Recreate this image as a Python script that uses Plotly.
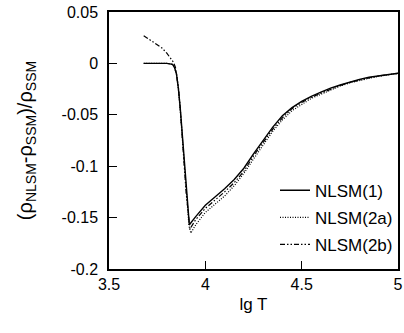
import plotly.graph_objects as go

# NLSM(1)
x1 = [3.68, 3.75, 3.80, 3.83, 3.84, 3.85, 3.86, 3.87, 3.88, 3.89, 3.90, 3.917,
      3.95, 4.0, 4.05, 4.1, 4.15, 4.2, 4.25, 4.3, 4.35, 4.4, 4.45, 4.5, 4.55,
      4.6, 4.65, 4.7, 4.75, 4.8, 4.85, 4.9, 4.95, 5.0]
y1 = [0, 0, 0, -0.001, -0.004, -0.010, -0.024, -0.044, -0.068, -0.095, -0.124, -0.157,
      -0.149, -0.138, -0.130, -0.122, -0.113, -0.102, -0.088, -0.075, -0.062, -0.051,
      -0.043, -0.037, -0.032, -0.028, -0.024, -0.021, -0.018, -0.0155, -0.0135, -0.012,
      -0.0105, -0.0095]

# NLSM(2a)
x2a = [3.68, 3.75, 3.80, 3.83, 3.84, 3.85, 3.86, 3.87, 3.88, 3.89, 3.90, 3.915, 3.925,
       3.95, 4.0, 4.05, 4.1, 4.15, 4.2, 4.25, 4.3, 4.35, 4.4, 4.45, 4.5, 4.55,
       4.6, 4.65, 4.7, 4.75, 4.8, 4.85, 4.9, 4.95, 5.0]
y2a = [0, 0, 0, -0.001, -0.004, -0.010, -0.025, -0.046, -0.071, -0.099, -0.128, -0.158, -0.165,
       -0.157, -0.145, -0.137, -0.129, -0.119, -0.107, -0.093, -0.079, -0.066, -0.055,
       -0.046, -0.040, -0.034, -0.030, -0.026, -0.022, -0.019, -0.0165, -0.0145, -0.0125,
       -0.011, -0.0098]

# NLSM(2b)
x2b = [3.68, 3.70, 3.725, 3.75, 3.775, 3.80, 3.82, 3.835, 3.845, 3.85, 3.86, 3.87, 3.88,
       3.89, 3.90, 3.92, 3.95, 4.0, 4.05, 4.1, 4.15, 4.2, 4.25, 4.3, 4.35, 4.4, 4.45,
       4.5, 4.55, 4.6, 4.65, 4.7, 4.75, 4.8, 4.85, 4.9, 4.95, 5.0]
y2b = [0.027, 0.0245, 0.0215, 0.0185, 0.0150, 0.0100, 0.0050, 0.0010, -0.004, -0.009,
       -0.023, -0.044, -0.069, -0.096, -0.125, -0.161, -0.152, -0.141, -0.133, -0.125,
       -0.116, -0.105, -0.090, -0.077, -0.064, -0.053, -0.044, -0.038, -0.033, -0.029,
       -0.025, -0.0215, -0.0185, -0.016, -0.014, -0.0122, -0.0107, -0.0096]

x_ticks = [3.5, 4, 4.5, 5]
x_tick_labels = ["3.5", "4", "4.5", "5"]
y_ticks = [0.05, 0, -0.05, -0.1, -0.15, -0.2]
y_tick_labels = ["0.05", "0", "-0.05", "-0.1", "-0.15", "-0.2"]

FONT = "Liberation Sans, Arial, Helvetica, sans-serif"

fig = go.Figure()
series = [
    ("NLSM(1)", x1, y1, "solid", 1.4),
    ("NLSM(2a)", x2a, y2a, "1px,1.5px", 1.2),
    ("NLSM(2b)", x2b, y2b, "5px,2px,1.5px,2px,1.5px,2px", 1.2),
]
for name, xs, ys, dash, w in series:
    fig.add_trace(go.Scatter(
        x=xs, y=ys, mode="lines", name=name, legendgroup=name,
        line=dict(color="black", width=w, dash=dash),
    ))

fig.update_layout(
    width=404, height=333,
    margin=dict(l=109, r=6, t=12, b=64),
    paper_bgcolor="white", plot_bgcolor="white",
    font=dict(family=FONT, size=16, color="black"),
    showlegend=True,
    legend=dict(
        x=1.0, y=0.375, xanchor="right", yanchor="top",
        bgcolor="rgba(0,0,0,0)", borderwidth=0,
        font=dict(size=17, color="black"),
        tracegroupgap=2,
        itemwidth=30,
    ),
    xaxis=dict(
        range=[3.5, 5], tickvals=x_ticks, ticktext=x_tick_labels,
        ticks="inside", ticklen=8, tickwidth=1, tickcolor="black",
        showline=True, linecolor="black", linewidth=1.5, mirror=True,
        showgrid=False, zeroline=False, ticklabelstandoff=0,
        ticklabeloverflow="allow", automargin=False,
        title=dict(text="lg T", font=dict(size=17), standoff=6),
    ),
    yaxis=dict(
        range=[-0.2, 0.05], tickvals=y_ticks, ticktext=y_tick_labels,
        ticks="inside", ticklen=8, tickwidth=1, tickcolor="black",
        showline=True, linecolor="black", linewidth=1.5, mirror=True,
        showgrid=False, zeroline=False, ticklabelstandoff=6,
        ticklabeloverflow="allow", automargin=False,
        title=dict(text="(ρ<sub>NLSM</sub>-ρ<sub>SSM</sub>)/ρ<sub>SSM</sub>",
                   font=dict(size=20), standoff=24),
    ),
)

fig.write_html("out.html", config={"displayModeBar": False},
               post_script="document.body.style.margin='0';")
